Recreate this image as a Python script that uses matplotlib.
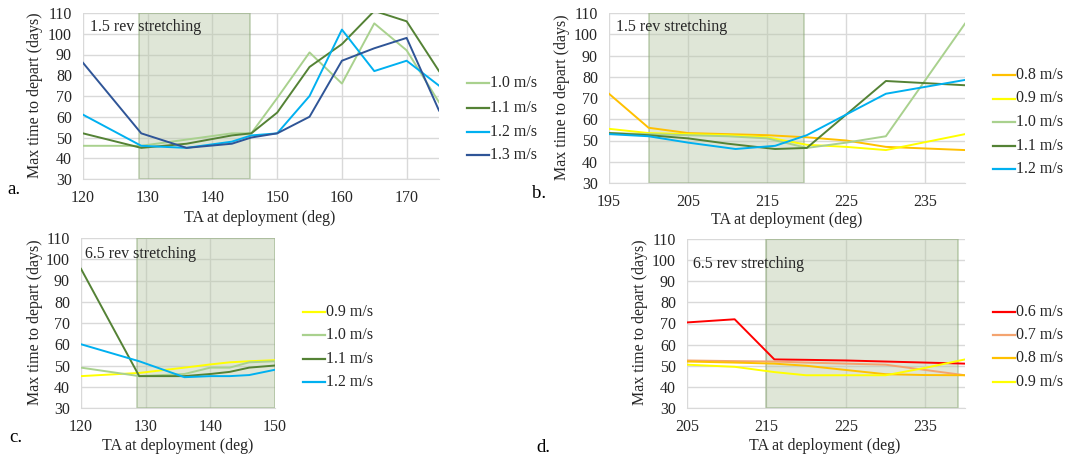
import matplotlib
matplotlib.use("Agg")
import matplotlib.pyplot as plt
from matplotlib.lines import Line2D

plt.rcParams['font.family'] = ['Liberation Serif', 'DejaVu Serif']

# ---------------- data ----------------
# Panel a (1.5 rev stretching)
a_x = [120, 129, 136, 143, 146, 150, 155, 160, 165, 170, 175]
a_labels = ["1.0 m/s", "1.1 m/s", "1.2 m/s", "1.3 m/s"]
a_10 = [46, 46, 49, 52, 52, 69, 91, 76, 105, 92, 67]
a_11 = [52, 45, 47, 51, 52, 62, 84, 95, 111, 106, 82]
a_12 = [61, 46, 45, 48, 51, 52, 70, 102, 82, 87, 75]
a_13 = [86, 52, 45, 47, 50, 52, 60, 87, 93, 98, 63]
a_span = (128.7, 145.8)

# Panel b (1.5 rev stretching)
b_labels = ["0.8 m/s", "0.9 m/s", "1.0 m/s", "1.1 m/s", "1.2 m/s"]
b_x08 = [195, 200, 205, 210, 215, 220, 225, 230, 240]
b_08 = [72, 56, 53.5, 53, 52.5, 51.5, 50, 47, 45.5]
b_x09 = [195, 200, 205, 210, 215, 220, 225, 230, 240]
b_09 = [55.5, 53.5, 53, 52.5, 51.5, 48, 47, 45.5, 53]
b_x10 = [195, 200, 205, 210, 215, 220, 225, 230, 240]
b_10 = [53.5, 53, 52.5, 52, 51, 46.5, 49, 52, 105]
b_x11 = [195, 200, 205, 210, 216, 220, 230, 240]
b_11 = [53.5, 52.5, 51, 48.5, 46, 46.5, 78, 76]
b_x12 = [195, 200, 205, 211, 216, 220, 230, 240]
b_12 = [53, 52, 49, 46, 47.5, 52.5, 72, 78.5]
b_span = (200, 219.6)

# Panel c (6.5 rev stretching)
c_labels = ["0.9 m/s", "1.0 m/s", "1.1 m/s", "1.2 m/s"]
c_x = [120, 129, 136, 140, 143, 146, 150]
c_09 = [45, 46.5, 49, 50.5, 51.5, 52, 52.5]
c_10 = [49, 45, 46, 49, 49, 51.5, 52]
c_11 = [95.5, 45, 45, 46, 47, 49, 50]
c_12 = [60, 52, 44.5, 45, 45, 45.5, 48]
c_span = (128.7, 150)

# Panel d (6.5 rev stretching)
d_labels = ["0.6 m/s", "0.7 m/s", "0.8 m/s", "0.9 m/s"]
d_x = [205, 211, 216, 220, 225, 230, 235, 240]
d_06 = [70.5, 72, 53, 52.8, 52.5, 52, 51.5, 51]
d_07 = [52.5, 52.2, 52, 51.5, 51, 50.5, 48, 45.5]
d_08 = [52, 51.5, 51, 50, 48, 46, 45.6, 45.5]
d_09 = [50.5, 49.5, 47, 45.5, 45.5, 45.5, 49, 53]
d_span = (215, 239.1)

yticks = [30, 40, 50, 60, 70, 80, 90, 100, 110]

C10 = "#A9D18E"
C11 = "#548235"
C12 = "#00B0F0"
C13 = "#2F5597"
C06 = "#FF0000"
C07 = "#F4A470"
C08 = "#FFC000"
C09 = "#FFFF00"

W, H = 1069, 457
FS = 11.5
fig = plt.figure(figsize=(W / 100, H / 100), dpi=100)


def add_ax(left, right, top, bottom):
    return fig.add_axes([left / W, 1 - bottom / H, (right - left) / W, (bottom - top) / H])


def style(ax, xlim, xticks, span, note, note_y):
    ax.set_xlim(*xlim)
    ax.set_ylim(30, 110)
    ax.set_xticks(xticks)
    ax.set_yticks(yticks)
    ax.grid(True, color="#d9d9d9", linewidth=1.0, zorder=0)
    ax.set_axisbelow(True)
    for s in ax.spines.values():
        s.set_visible(False)
    ax.spines['bottom'].set_visible(True)
    ax.spines['bottom'].set_color("#d9d9d9")
    ax.tick_params(length=0, labelsize=FS, colors="#262626", pad=8)
    ax.axvspan(span[0], span[1], facecolor="#b8c8a8", alpha=0.45,
               edgecolor="#7f9f66", linewidth=1.2, zorder=1)
    ax.text(0.02, note_y, note, transform=ax.transAxes, fontsize=FS,
            ha="left", va="center", color="#262626", zorder=5)


def legend(x0, ys, items):
    for y, (lab, col) in zip(ys, items):
        fig.add_artist(Line2D([x0 / W, (x0 + 22) / W], [1 - y / H, 1 - y / H],
                              color=col, linewidth=1.6))
        fig.text((x0 + 23) / W, 1 - y / H, lab, fontsize=FS, va="center",
                 ha="left", color="#262626")


def labels(ylab_x, ylab_y, xlab_x, xlab_y, plab, plab_x, plab_y):
    fig.text(ylab_x / W, 1 - ylab_y / H, "Max time to depart (days)", rotation=90,
             fontsize=FS, ha="center", va="center", color="#262626")
    fig.text(xlab_x / W, 1 - xlab_y / H, "TA at deployment (deg)",
             fontsize=FS, ha="center", va="center", color="#262626")
    fig.text(plab_x / W, 1 - plab_y / H, plab, fontsize=FS + 2,
             ha="left", va="center", color="black")


lw = 1.4

# Panel a
ax = add_ax(83, 439, 13, 179)
style(ax, (120, 175), [120, 130, 140, 150, 160, 170], a_span, "1.5 rev stretching", 0.915)
for ys, c in zip([a_10, a_11, a_12, a_13], [C10, C11, C12, C13]):
    ax.plot(a_x, ys, color=c, linewidth=lw, zorder=3)
legend(467, [83, 108, 132, 155], list(zip(a_labels, [C10, C11, C12, C13])))
labels(35, 95, 260, 218, "a.", 7, 190)

# Panel b
ax = add_ax(609, 965, 13, 183)
style(ax, (195, 240), [195, 205, 215, 225, 235], b_span, "1.5 rev stretching", 0.92)
for xs, ys, c in zip([b_x08, b_x09, b_x10, b_x11, b_x12],
                     [b_08, b_09, b_10, b_11, b_12], [C08, C09, C10, C11, C12]):
    ax.plot(xs, ys, color=c, linewidth=lw, zorder=3)
legend(993, [75, 98.5, 122, 145.5, 169], list(zip(b_labels, [C08, C09, C10, C11, C12])))
labels(562, 97, 787, 220, "b.", 532, 194)

# Panel c
ax = add_ax(81, 275, 238, 408)
style(ax, (120, 150), [120, 130, 140, 150], c_span, "6.5 rev stretching", 0.905)
for ys, c in zip([c_09, c_10, c_11, c_12], [C09, C10, C11, C12]):
    ax.plot(c_x, ys, color=c, linewidth=lw, zorder=3)
legend(303, [312, 335, 359, 382], list(zip(c_labels, [C09, C10, C11, C12])))
labels(35, 322, 178, 446, "c.", 9, 438)

# Panel d
ax = add_ax(687, 965, 239, 408)
style(ax, (205, 240), [205, 215, 225, 235], d_span, "6.5 rev stretching", 0.852)
for ys, c in zip([d_06, d_07, d_08, d_09], [C06, C07, C08, C09]):
    ax.plot(d_x, ys, color=c, linewidth=lw, zorder=3)
legend(993, [312, 335, 358, 382], list(zip(d_labels, [C06, C07, C08, C09])))
labels(640, 322, 825, 446, "d.", 536, 447)

fig.savefig("out.png", dpi=100, facecolor="white")
